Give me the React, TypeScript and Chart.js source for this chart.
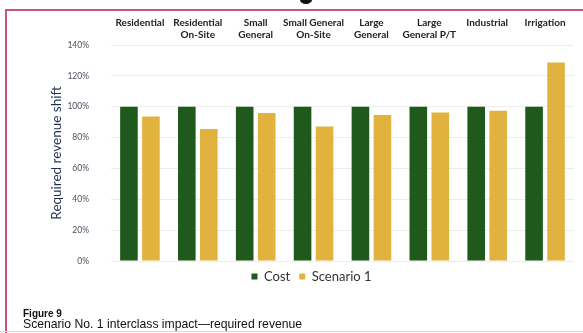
import { useEffect, useRef } from "react";
import { Chart, registerables } from "chart.js";

Chart.register(...registerables);

const categories: string[][] = [
  ["Residential"],
  ["Residential", "On-Site"],
  ["Small", "General"],
  ["Small General", "On-Site"],
  ["Large", "General"],
  ["Large", "General P/T"],
  ["Industrial"],
  ["Irrigation"],
];
const costValues = [100, 100, 100, 100, 100, 100, 100, 100];
const scenarioValues = [93.7, 85.6, 95.9, 87.1, 94.6, 96.3, 97.4, 128.6];
const seriesNames = ["Cost", "Scenario 1"];
const yMin = 0;
const yMax = 140;
const yStep = 20;

const GREEN = "#1f5a1c";
const GOLD = "#e2b23f";

export default function App() {
  const ref = useRef<HTMLCanvasElement | null>(null);

  useEffect(() => {
    if (!ref.current) return;
    const font = "Lato, 'Open Sans', sans-serif";
    const chart = new Chart(ref.current, {
      type: "bar",
      data: {
        labels: categories,
        datasets: [
          {
            label: seriesNames[0],
            data: costValues,
            backgroundColor: GREEN,
            barPercentage: 0.8,
            categoryPercentage: 0.76,
          },
          {
            label: seriesNames[1],
            data: scenarioValues,
            backgroundColor: GOLD,
            barPercentage: 0.8,
            categoryPercentage: 0.76,
          },
        ],
      },
      options: {
        responsive: false,
        animation: false,
        layout: { padding: { left: 49, right: 9, top: 13, bottom: 2 } },
        plugins: {
          legend: {
            position: "bottom",
            labels: {
              boxWidth: 6,
              boxHeight: 6,
              padding: 9,
              color: "#333",
              font: { family: font, size: 13 },
            },
          },
          tooltip: { enabled: false },
        },
        scales: {
          x: {
            position: "top",
            grid: { display: false, drawTicks: false },
            border: { display: false },
            ticks: {
              crossAlign: "far",
              autoSkip: false,
              maxRotation: 0,
              padding: 4,
              color: "#222",
              font: { family: font, size: 10, weight: "bold", lineHeight: 1.2 },
            },
          },
          y: {
            min: yMin,
            max: yMax,
            grid: { color: "#ececec", drawTicks: false },
            border: { display: false },
            ticks: {
              stepSize: yStep,
              padding: 22,
              color: "#4a5060",
              font: { family: font, size: 8.5 },
              callback: (v: any) => v + "%",
            },
            title: {
              display: true,
              text: "Required revenue shift",
              color: "#1f3050",
              padding: 0,
              font: { family: font, size: 13.5 },
            },
            afterFit: (s: any) => {
              s.width = 62;
            },
          },
        },
      },
    });
    return () => chart.destroy();
  }, []);

  return (
    <div
      style={{
        position: "absolute",
        left: 0,
        top: 0,
        width: 583,
        height: 333,
        background: "#fff",
        overflow: "hidden",
      }}
    >
      <canvas
        ref={ref}
        width={583}
        height={295}
        style={{ position: "absolute", left: 0, top: 0, width: 583, height: 295 }}
      />
      <div style={{ position: "absolute", left: 5, top: 9, width: 2, height: 324, background: "#c9557f" }} />
      <div style={{ position: "absolute", left: 5, top: 9, width: 578, height: 2, background: "#c9557f" }} />
      <div
        style={{
          position: "absolute",
          left: 300,
          top: -4,
          width: 12,
          height: 8,
          borderRadius: "50%",
          background: "#111",
        }}
      />
      <div style={{ position: "absolute", left: 0, top: 331, width: 583, height: 1, background: "#d8d8d8" }} />
      <div
        style={{
          position: "absolute",
          left: 23,
          top: 308,
          fontFamily: "'Liberation Sans', Arial, sans-serif",
          color: "#111",
          lineHeight: "11px",
        }}
      >
        <div style={{ fontWeight: "bold", fontSize: 10 }}>Figure 9</div>
        <div style={{ fontSize: 12.2 }}>Scenario No. 1 interclass impact—required revenue</div>
      </div>
    </div>
  );
}
